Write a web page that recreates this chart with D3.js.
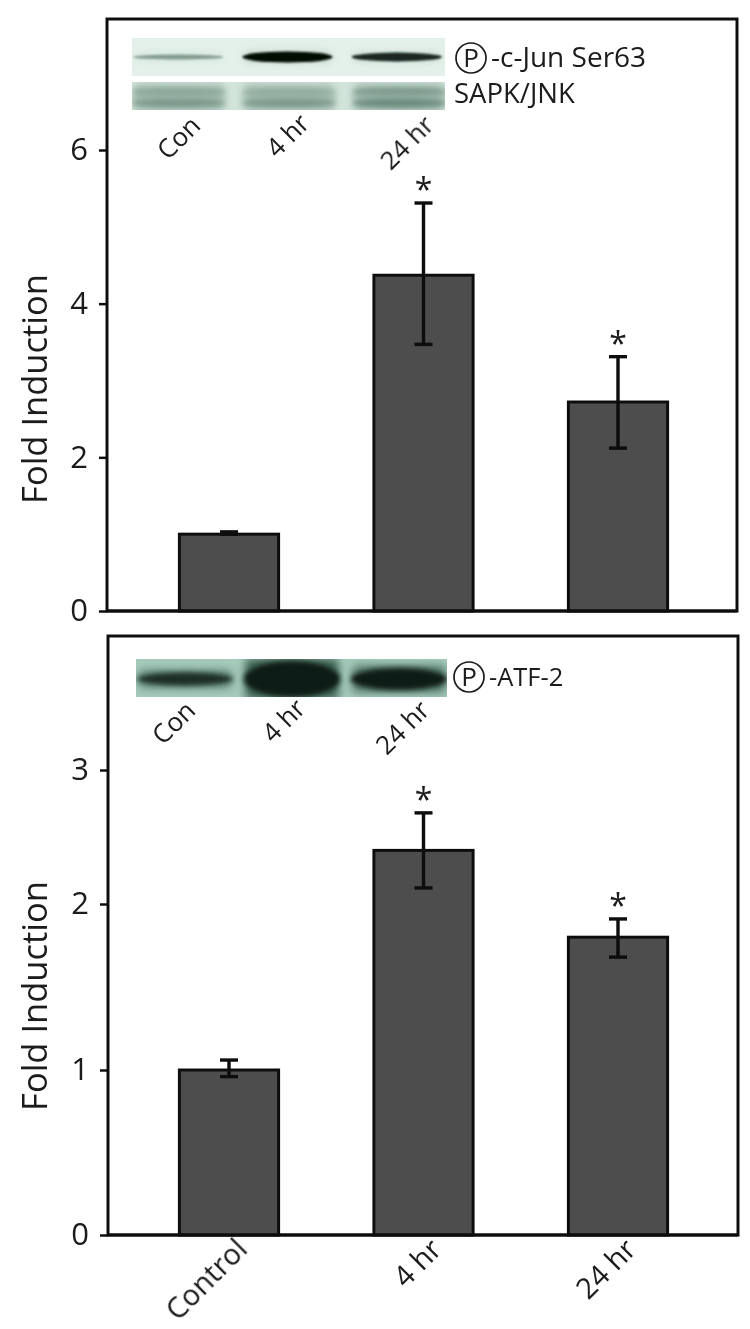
<!DOCTYPE html>
<html>
<head>
<meta charset="utf-8">
<script src="https://cdn.jsdelivr.net/npm/d3@7"></script>
<style>
	html, body { margin: 0; padding: 0; background: #fff; }
	svg { display: block; }
	text { font-family: "Open Sans", sans-serif; fill: #1a1a1a; }
</style>
</head>
<body>
<div id="chart"></div>
<script>
// values
const categories = ['Control', '4 hr', '24 hr'];
const lanes = ['Con', '4 hr', '24 hr'];

const junValues = [1.0, 4.37, 2.72];
const junErrHigh = [1.03, 5.31, 3.31];
const junErrLow = [1.0, 3.47, 2.12];
const junStars = [false, true, true];
const junTicks = [0, 2, 4, 6];

const atfValues = [1.0, 2.4, 1.8];
const atfErrHigh = [1.06, 2.68, 1.91];
const atfErrLow = [0.96, 2.12, 1.68];
const atfStars = [false, true, true];
const atfTicks = [0, 1, 2, 3];

// relative band strength per lane, 0..1
const junBand = [0.25, 1, 0.72];
const sapkUpperBand = [0.42, 0.38, 0.5];
const sapkLowerBand = [0.5, 0.5, 0.58];
const atfBand = [0.3, 1, 0.58];

const width = 750;
const height = 1329;

const svg = d3.select('#chart').append('svg')
	.attr('width', width)
	.attr('height', height);

const defs = svg.append('defs');
[['soft', 0.45], ['blur1', 1.2], ['blur2', 2.4], ['blur4', 4]].forEach(([id, dev]) => {
	defs.append('filter')
		.attr('id', id)
		.attr('filterUnits', 'userSpaceOnUse')
		.attr('x', 0).attr('y', 0)
		.attr('width', width).attr('height', height)
		.append('feGaussianBlur')
		.attr('stdDeviation', dev);
});

const root = svg.append('g').attr('filter', 'url(#soft)');

const xScale = d3.scaleBand()
	.domain(categories)
	.range([131.75, 715.25])
	.paddingInner(0.49)
	.paddingOuter(0.245);

/**
 * @param {Object} p panel settings
 */
function drawPanel(p) {
	const g = root.append('g');
	const y = d3.scaleLinear().domain(p.domain).range(p.range);

	g.append('rect')
		.attr('x', p.left).attr('y', p.top)
		.attr('width', p.right - p.left).attr('height', p.bottom - p.top)
		.attr('fill', '#fff')
		.attr('stroke', '#111')
		.attr('stroke-width', 3);

	const axis = g.append('g')
		.attr('transform', `translate(${p.left},0)`)
		.call(d3.axisLeft(y).tickValues(p.ticks).tickSize(8).tickPadding(11).tickFormat(d3.format('d')));
	axis.select('.domain').remove();
	axis.selectAll('line').attr('stroke', '#111').attr('stroke-width', 2.5);
	axis.selectAll('text').attr('font-size', 31).attr('fill', '#1a1a1a');

	g.append('text')
		.attr('transform', `translate(47,${p.titleY}) rotate(-90)`)
		.attr('text-anchor', 'middle')
		.attr('font-size', 34.5)
		.text('Fold Induction');

	const bars = g.append('g');
	bars.selectAll('rect')
		.data(p.values)
		.join('rect')
		.attr('x', (d, i) => xScale(categories[i]))
		.attr('y', d => y(d))
		.attr('width', xScale.bandwidth())
		.attr('height', d => y(0) - y(d))
		.attr('fill', '#4d4d4d')
		.attr('stroke', '#111')
		.attr('stroke-width', 3);

	const cx = i => xScale(categories[i]) + xScale.bandwidth() / 2;
	const errors = g.append('g').attr('stroke', '#0c0c0c').attr('stroke-width', 3.4);
	p.values.forEach((v, i) => {
		errors.append('line')
			.attr('x1', cx(i)).attr('x2', cx(i))
			.attr('y1', y(p.errHigh[i])).attr('y2', y(p.errLow[i]));
		[p.errHigh[i], p.errLow[i]].forEach(e => {
			errors.append('line')
				.attr('x1', cx(i) - 9).attr('x2', cx(i) + 9)
				.attr('y1', y(e)).attr('y2', y(e));
		});
	});

	g.append('g').selectAll('text')
		.data(p.stars.map((s, i) => ({s, i})).filter(d => d.s))
		.join('text')
		.attr('x', d => cx(d.i))
		.attr('y', d => y(p.errHigh[d.i]) + p.starDy)
		.attr('text-anchor', 'middle')
		.attr('font-size', 32)
		.text('*');

	// border over the bars' base
	g.append('line')
		.attr('x1', p.left).attr('x2', p.right)
		.attr('y1', p.bottom).attr('y2', p.bottom)
		.attr('stroke', '#111').attr('stroke-width', 3);
}

/**
 * @param {Object} b blot settings
 */
function drawBlot(b) {
	const clipId = 'clip' + b.id;
	defs.append('clipPath').attr('id', clipId)
		.append('rect')
		.attr('x', b.x0).attr('y', b.y0)
		.attr('width', b.x1 - b.x0).attr('height', b.y1 - b.y0);

	const g = svg.append('g').attr('clip-path', `url(#${clipId})`);
	g.append('rect')
		.attr('x', b.x0).attr('y', b.y0)
		.attr('width', b.x1 - b.x0).attr('height', b.y1 - b.y0)
		.attr('fill', b.background);

	const lane = d3.scaleBand().domain(lanes).range(b.laneRange).paddingInner(b.lanePadding);
	const thickness = d3.scaleLinear().domain([0, 1]).range(b.thickness);
	const tone = d3.scaleLinear().domain(b.toneDomain).range(b.toneRange).clamp(true);

	b.rows.forEach(row => {
		const bands = g.append('g');
		bands.append('g').attr('filter', 'url(#blur4)')
			.selectAll('rect')
			.data(row.values)
			.join('rect')
			.attr('x', (d, i) => lane(lanes[i]))
			.attr('y', d => row.y - thickness(d) / 2 - b.halo)
			.attr('width', lane.bandwidth())
			.attr('height', d => thickness(d) + 2 * b.halo)
			.attr('rx', 6)
			.attr('fill', b.haloColor)
			.attr('fill-opacity', d => b.haloOpacity * (0.5 + d / 2));
		bands.append('g').attr('filter', `url(#${b.coreBlur})`)
			.selectAll('ellipse')
			.data(row.values)
			.join('ellipse')
			.attr('cx', (d, i) => lane(lanes[i]) + lane.bandwidth() / 2)
			.attr('cy', row.y)
			.attr('rx', lane.bandwidth() / 2 + 1)
			.attr('ry', d => thickness(d) / 2 + 1)
			.attr('fill', d => tone(d));
	});
}

/**
 * rotated lane labels under a blot
 */
function drawLaneLabels(labels, xs, ys) {
	root.append('g').selectAll('text')
		.data(labels)
		.join('text')
		.attr('transform', (d, i) => `translate(${xs[i]},${ys[i]}) rotate(-45)`)
		.attr('text-anchor', 'middle')
		.attr('dominant-baseline', 'central')
		.attr('font-size', 26)
		.text(d => d);
}

function drawPhospho(cx, cy, label, size) {
	root.append('circle')
		.attr('cx', cx).attr('cy', cy).attr('r', 15)
		.attr('fill', '#fff').attr('stroke', '#1a1a1a').attr('stroke-width', 1.7);
	root.append('text')
		.attr('x', cx).attr('y', cy + 9)
		.attr('text-anchor', 'middle')
		.attr('font-size', 26)
		.text('P');
	root.append('text')
		.attr('x', cx + 20).attr('y', cy + 9)
		.attr('font-size', size)
		.text(label);
}

drawPanel({
	left: 107, right: 737, top: 19, bottom: 611,
	domain: [0, 6], range: [611, 150],
	ticks: junTicks, values: junValues, errHigh: junErrHigh, errLow: junErrLow, stars: junStars,
	titleY: 389, starDy: -2
});

drawPanel({
	left: 108, right: 738, top: 636, bottom: 1235,
	domain: [0, 1, 2, 3], range: [1235, 1070, 904, 770],
	ticks: atfTicks, values: atfValues, errHigh: atfErrHigh, errLow: atfErrLow, stars: atfStars,
	titleY: 996, starDy: -2
});

// category labels under the lower panel
const xAxis = root.append('g')
	.attr('transform', 'translate(0,1235)')
	.call(d3.axisBottom(xScale).tickSize(0).tickPadding(0));
xAxis.select('.domain').remove();
xAxis.selectAll('text')
	.attr('font-size', 29)
	.attr('fill', '#1a1a1a')
	.attr('text-anchor', 'end')
	.attr('dy', 0)
	.attr('transform', 'translate(20,16) rotate(-45)');

drawBlot({
	id: 'jun', x0: 132, x1: 445, y0: 38, y1: 76,
	background: '#e4f1ea', laneRange: [134, 441], lanePadding: 0.19,
	coreBlur: 'blur1',
	thickness: [1, 9], toneDomain: [0.2, 0.7, 1], toneRange: ['#8fa99b', '#1c2a22', '#050705'],
	halo: 1, haloColor: '#b4cbbf', haloOpacity: 0.7,
	rows: [{y: 57, values: junBand}]
});

drawBlot({
	id: 'sapk', x0: 132, x1: 445, y0: 82, y1: 110,
	background: '#d3e5db', laneRange: [133, 445], lanePadding: 0.17,
	coreBlur: 'blur2',
	thickness: [2, 10], toneDomain: [0.3, 0.6], toneRange: ['#a3bdb0', '#688679'],
	halo: 5, haloColor: '#8ca99b', haloOpacity: 1,
	rows: [{y: 92, values: sapkUpperBand}, {y: 103, values: sapkLowerBand}]
});

drawBlot({
	id: 'atf', x0: 136, x1: 447, y0: 659, y1: 697,
	background: '#a6cbbb', laneRange: [138, 446], lanePadding: 0.12,
	coreBlur: 'blur2',
	thickness: [1, 34], toneDomain: [0.3, 0.6], toneRange: ['#1d2f25', '#101b12'],
	halo: 4, haloColor: '#35594b', haloOpacity: 0.9,
	rows: [{y: 679, values: atfBand}]
});

drawLaneLabels(lanes, [178, 287, 406], [137, 135, 142]);
drawLaneLabels(lanes, [173, 283, 402], [722, 720, 727]);

drawPhospho(471, 58, '-c-Jun Ser63', 28);
root.append('text').attr('x', 454).attr('y', 103).attr('font-size', 27.5).text('SAPK/JNK');
drawPhospho(469, 677, '-ATF-2', 25.5);
</script>
</body>
</html>
